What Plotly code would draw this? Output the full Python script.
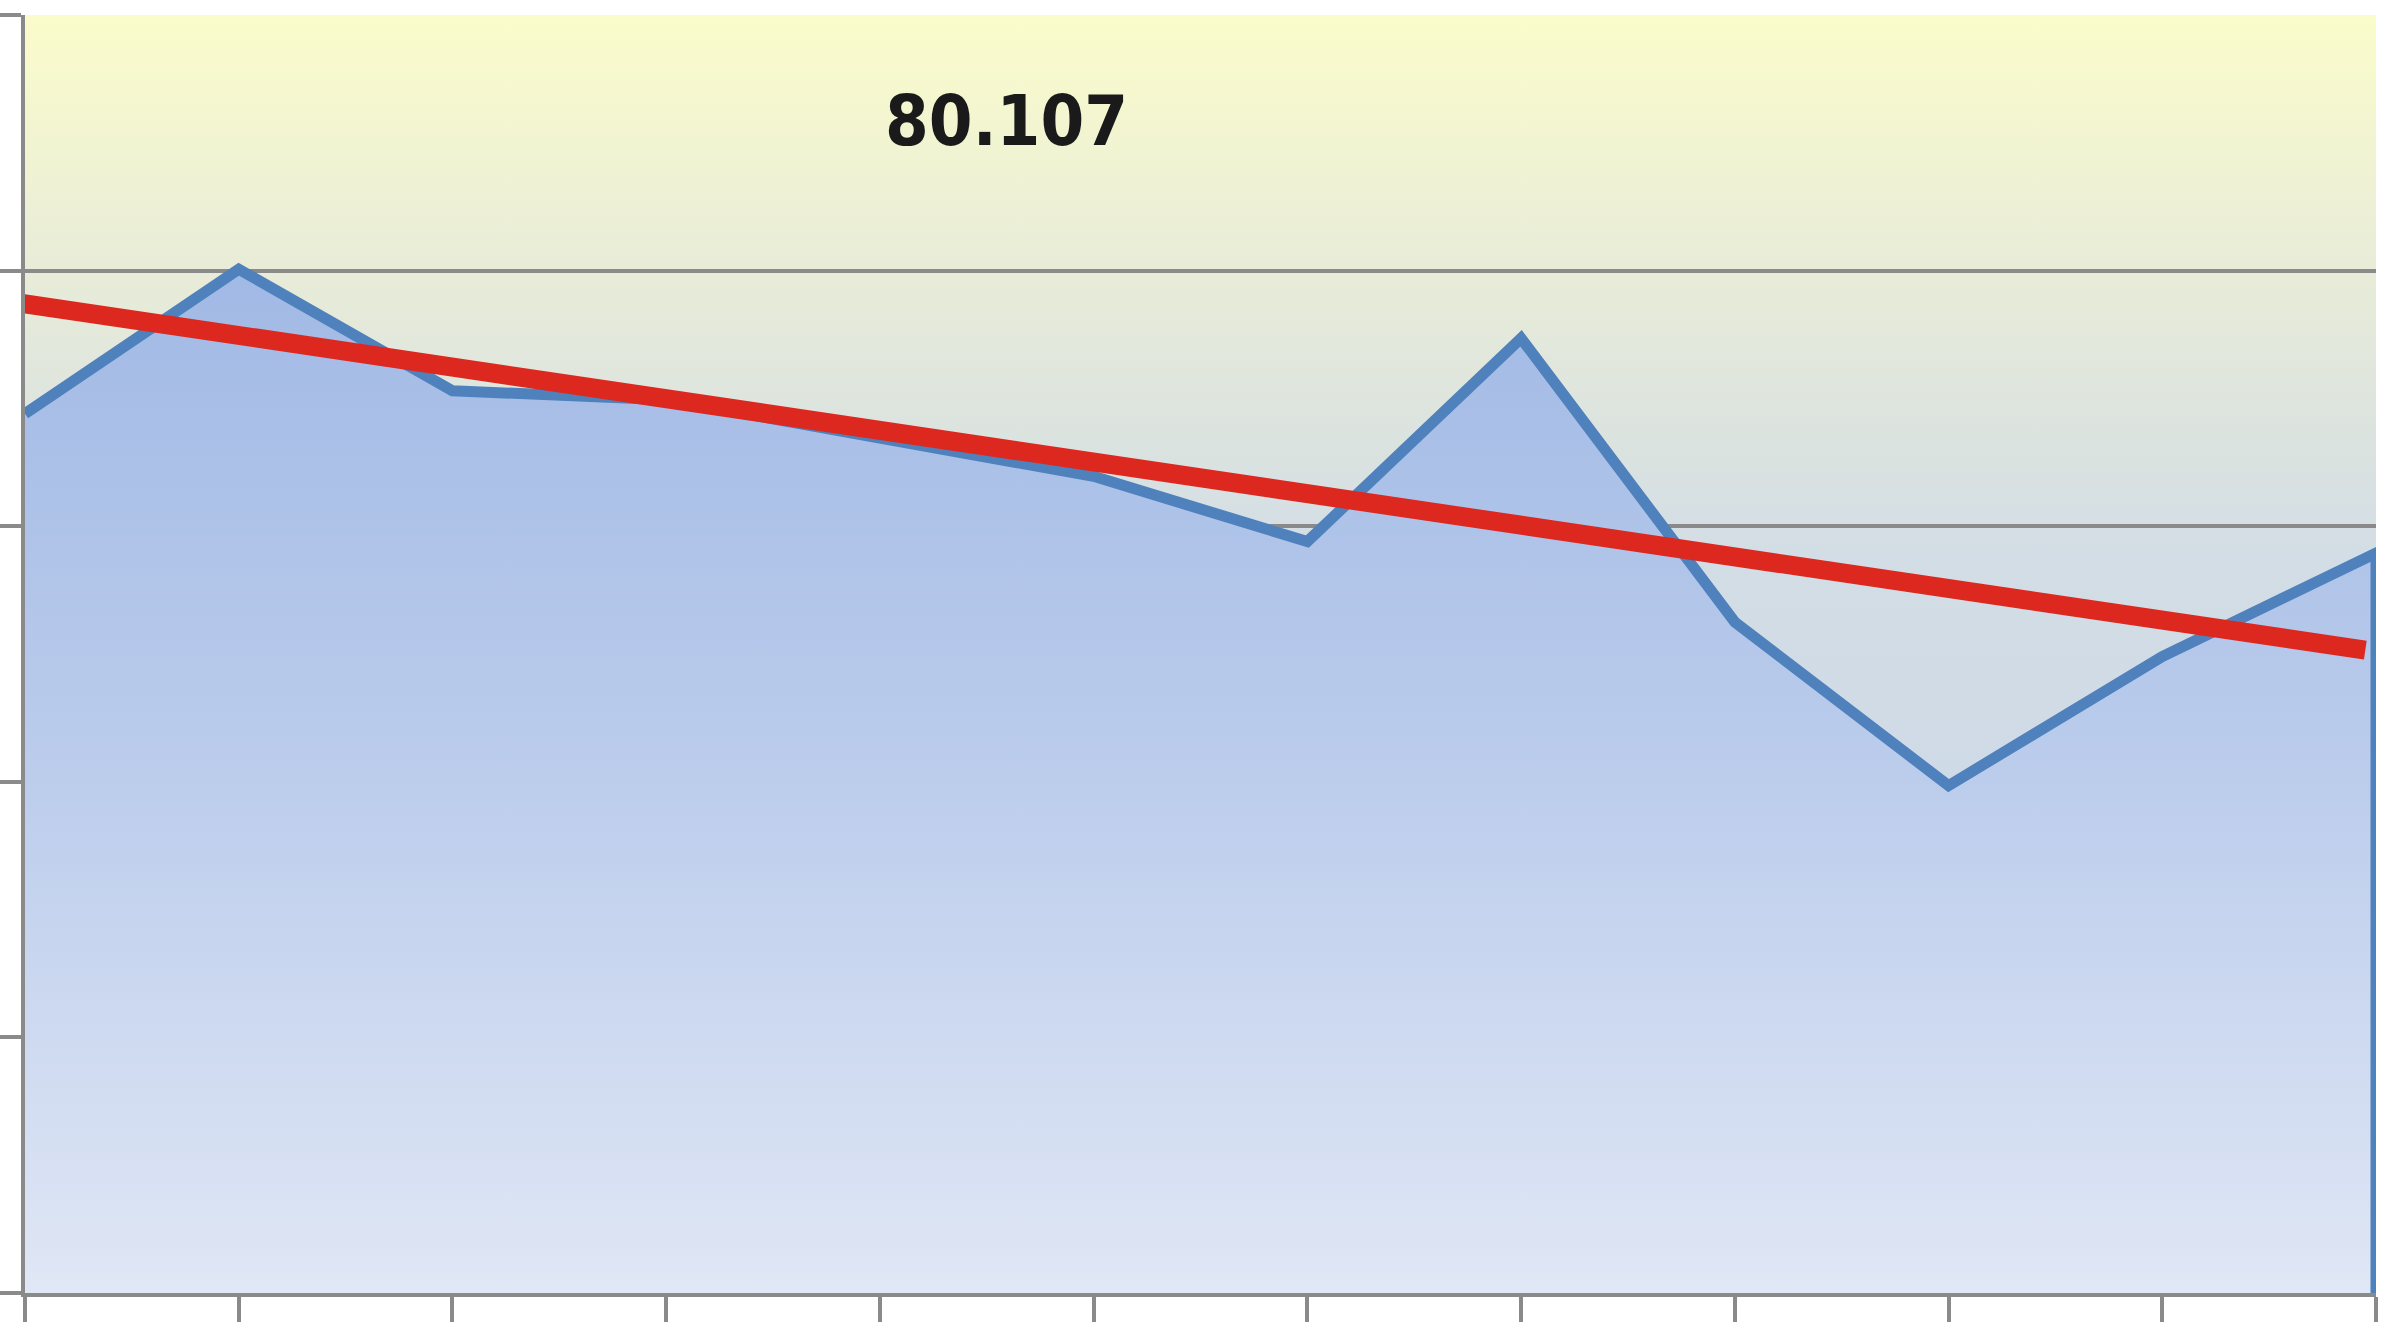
import base64
import plotly.graph_objects as go

# ---- data ----
categories = list(range(12))
values = [68.8, 80.107, 70.6, 69.9, 66.9, 63.9, 58.8, 74.7, 52.5, 39.7, 49.8, 57.9]
trend_x = [-0.04, 10.95]
trend_y = [77.5, 50.3]
label_text = "80.107"
label_x = 4.59
label_y = 91.7
y_ticks = [0, 20, 40, 60, 80, 100]

# ---- styles ----
BLUE_LINE = "#4F81BD"
RED = "#DC281E"
GRID = "#8A8A8A"

# background gradient (plot area), as an SVG image
svg = (
    '<svg xmlns="http://www.w3.org/2000/svg" width="100" height="100" preserveAspectRatio="none">'
    '<defs><linearGradient id="g" x1="0" y1="0" x2="0" y2="1">'
    '<stop offset="0" stop-color="#FBFCCB"/>'
    '<stop offset="0.2" stop-color="#E8ECD8"/>'
    '<stop offset="0.42" stop-color="#D3DDE5"/>'
    '<stop offset="1" stop-color="#C6D4EC"/>'
    '</linearGradient></defs>'
    '<rect x="0" y="0" width="100" height="100" fill="url(#g)"/></svg>'
)
svg_uri = "data:image/svg+xml;base64," + base64.b64encode(svg.encode()).decode()

fig = go.Figure()

# area (filled polygon down to zero)
area_x = categories + [categories[-1], categories[0]]
area_y = values + [0, 0]
fig.add_trace(go.Scatter(
    x=area_x, y=area_y, mode="lines", fill="toself",
    line=dict(width=0, color="rgba(0,0,0,0)"),
    fillgradient=dict(type="vertical", start=0, stop=max(values),
                      colorscale=[[0, "#E0E7F5"], [0.5, "#BCCDEC"], [1, "#A1B9E5"]]),
    hoverinfo="skip", showlegend=False,
))
# outline of area (top edge + right drop)
fig.add_trace(go.Scatter(
    x=categories + [categories[-1]], y=values + [0], mode="lines",
    line=dict(color=BLUE_LINE, width=11), showlegend=False, hoverinfo="skip",
))
# trend line
fig.add_trace(go.Scatter(
    x=trend_x, y=trend_y, mode="lines",
    line=dict(color=RED, width=19), showlegend=False, hoverinfo="skip",
))

fig.add_annotation(
    x=label_x, y=label_y, xref="x", yref="y", text="<b>" + label_text + "</b>",
    showarrow=False,
    font=dict(family="DejaVu Sans Condensed, DejaVu Sans", size=70, color="#1A1A1A"),
)

fig.update_layout(
    width=2393, height=1322,
    margin=dict(l=25, r=17, t=15, b=29),
    paper_bgcolor="white",
    plot_bgcolor="rgba(0,0,0,0)",
    showlegend=False,
    images=[dict(source=svg_uri, xref="paper", yref="paper", x=0, y=1,
                 sizex=1, sizey=1, sizing="stretch", xanchor="left", yanchor="top",
                 layer="below")],
)
fig.update_xaxes(
    range=[0, 11], tickvals=categories, showticklabels=False, showgrid=False,
    zeroline=False, showline=True, linecolor=GRID, linewidth=4,
    ticks="outside", ticklen=40, tickwidth=4, tickcolor=GRID, automargin=False,
)
fig.update_yaxes(
    range=[0, 100], tickvals=y_ticks, showticklabels=False, showgrid=True,
    gridcolor=GRID, gridwidth=4, zeroline=False, showline=True, linecolor=GRID,
    linewidth=4, ticks="outside", ticklen=30, tickwidth=4, tickcolor=GRID,
    automargin=False,
)

fig.write_html("out.html")
